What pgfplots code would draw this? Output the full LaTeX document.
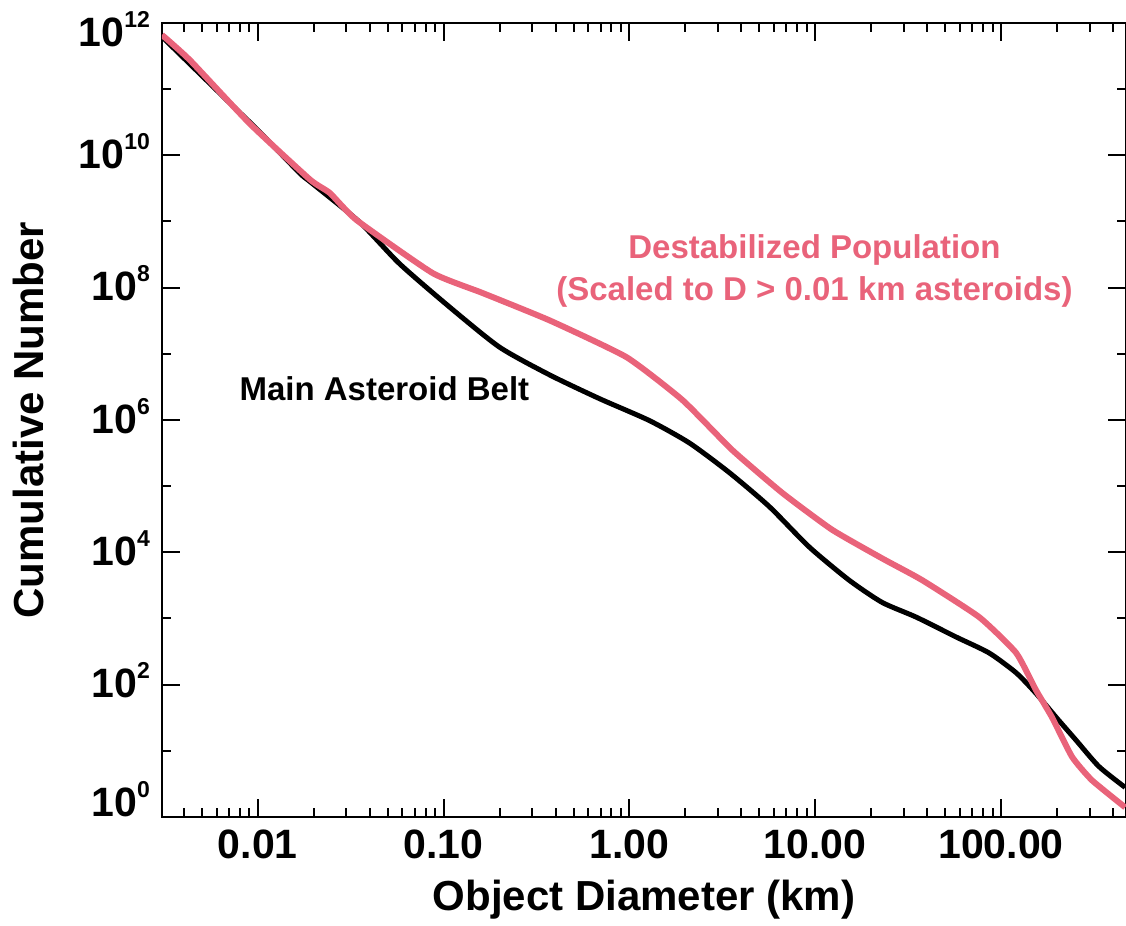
\documentclass[border=0pt]{standalone}
\usepackage{fontspec}
\setmainfont{Liberation Sans}
\usepackage{pgfplots}
\pgfplotsset{compat=1.18}
\definecolor{destab}{RGB}{233,99,122}
\newcommand{\ylab}[2]{\raisebox{#2}[\height][\depth]{10\raisebox{9.5pt}{\fontsize{11.5}{11.5}\selectfont #1}}}
\begin{document}
\begin{tikzpicture}
\begin{axis}[
  scale only axis,
  width=482pt, height=397pt,
  xmode=log, ymode=log,
  xmin=0.00305, xmax=470,
  ymin=1, ymax=1e12,
  axis line style={line width=1pt},
  every tick/.style={black, line width=1pt},
  major tick length=9pt,
  minor tick length=4.3pt,
  tick align=inside,
  xtick={0.01,0.1,1,10,100},
  xticklabels={0.01,0.10,1.00,10.00,100.00},
  minor xtick={0.004,0.005,0.006,0.007,0.008,0.009,
    0.02,0.03,0.04,0.05,0.06,0.07,0.08,0.09,
    0.2,0.3,0.4,0.5,0.6,0.7,0.8,0.9,
    2,3,4,5,6,7,8,9,
    20,30,40,50,60,70,80,90,
    200,300,400},
  ytick={1,1e2,1e4,1e6,1e8,1e10,1e12},
  yticklabels={\ylab{0}{9pt},\ylab{2}{2pt},\ylab{4}{2pt},\ylab{6}{2pt},\ylab{8}{2pt},\ylab{10}{2pt},\ylab{12}{-3pt}},
  minor ytick={10,1e3,1e5,1e7,1e9,1e11},
  ticklabel style={font=\fontsize{20.5}{20.5}\selectfont\bfseries},
  xticklabel style={yshift=-3pt},
  yticklabel style={xshift=-2.5pt},
  xlabel={Object Diameter (km)},
  ylabel={Cumulative Number},
  label style={font=\fontsize{21}{21}\selectfont\bfseries},
  xlabel style={at={(axis description cs:0.5,0)}, anchor=center, yshift=-41.5pt},
  ylabel style={at={(axis description cs:-0.139,0.5)}, anchor=center},
  clip=true,
]
\addplot[black, line width=2.5pt, smooth, tension=0.4] coordinates {
(0.00305,6.2e11) (0.00706,6.2e10) (0.0100,2.4e10) (0.0168,5.4e9) (0.0191,4.0e9)
(0.0353,9.8e8) (0.0579,2.3e8) (0.1076,5.1e7) (0.200,1.26e7) (0.372,4.8e6)
(0.690,2.1e6) (1.28,9.8e5) (2.10,4.5e5) (3.45,1.6e5) (5.66,4.9e4)
(9.29,1.2e4) (15.2,3.8e3) (22.9,1.75e3) (34.9,1.05e3) (57.3,525)
(86.1,302) (120.5,151) (154,74) (198,32) (253,14.5) (336,5.8) (465,2.8)
};
\addplot[destab, line width=3pt, smooth, tension=0.3] coordinates {
(0.00305,6.6e11) (0.00431,2.75e11) (0.00906,3.0e10) (0.0191,4.3e9) (0.0244,2.7e9)
(0.0340,1.05e9) (0.0873,1.66e8) (0.162,8.3e7) (0.372,3.2e7) (0.964,8.9e6)
(1.93,2.0e6) (3.58,3.5e5) (6.65,7.9e4) (12.3,2.2e4) (22.9,8.1e3)
(37.6,3.8e3) (76.2,1.05e3) (120.5,302) (154,83) (188,32)
(241,8.1) (308,3.6) (465,1.4)
};
\node[font=\fontsize{16.5}{16.5}\selectfont\bfseries, black] at (axis cs:0.048,3.0e6) {Main Asteroid Belt};
\node[font=\fontsize{16.5}{21}\selectfont\bfseries, text=destab, align=center] at (axis cs:9.9,1.78e8) {Destabilized Population\\(Scaled to D > 0.01 km asteroids)};
\end{axis}
\pgfresetboundingbox
\path[use as bounding box] (-81pt,-54.5pt) rectangle (482pt,408.5pt);
\end{tikzpicture}
\end{document}
